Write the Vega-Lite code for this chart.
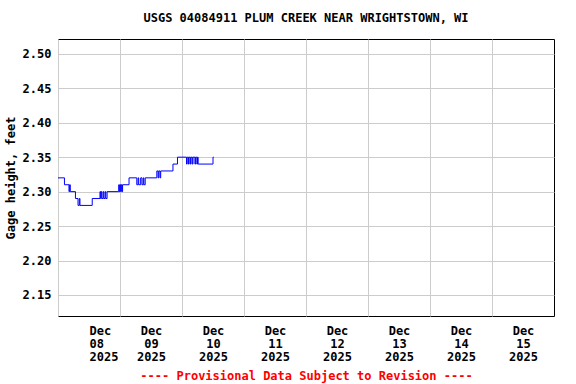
{
  "$schema": "https://vega.github.io/schema/vega-lite/v6.json",
  "width": 496,
  "height": 277,
  "autosize": {"type": "none"},
  "padding": {"left": 58, "top": 39, "right": 22, "bottom": 68},
  "background": "white",
  "title": {"text": "USGS 04084911 PLUM CREEK NEAR WRIGHTSTOWN, WI", "font": "DejaVu Sans Mono", "fontSize": 12, "fontWeight": "bold", "color": "black", "offset": 14, "anchor": "middle"},
  "config": {
    "view": {"stroke": "black", "strokeWidth": 1},
    "axis": {"labelFont": "DejaVu Sans Mono", "labelFontWeight": "bold", "labelFontSize": 12, "labelColor": "black", "titleFont": "DejaVu Sans Mono", "titleFontWeight": "bold", "titleFontSize": 12, "titleColor": "black", "gridColor": "#cccccc", "gridWidth": 1, "gridOpacity": 1, "ticks": false, "domain": false}
  },
  "data": {"values": [
    {"t": "2025-12-08T00:00", "v": 2.32},
    {"t": "2025-12-08T02:30", "v": 2.31},
    {"t": "2025-12-08T04:15", "v": 2.30},
    {"t": "2025-12-08T04:30", "v": 2.31},
    {"t": "2025-12-08T04:45", "v": 2.30},
    {"t": "2025-12-08T06:45", "v": 2.29},
    {"t": "2025-12-08T07:45", "v": 2.28},
    {"t": "2025-12-08T08:15", "v": 2.29},
    {"t": "2025-12-08T08:30", "v": 2.28},
    {"t": "2025-12-08T13:15", "v": 2.29},
    {"t": "2025-12-08T16:15", "v": 2.30},
    {"t": "2025-12-08T16:30", "v": 2.29},
    {"t": "2025-12-08T16:45", "v": 2.30},
    {"t": "2025-12-08T17:00", "v": 2.29},
    {"t": "2025-12-08T17:30", "v": 2.30},
    {"t": "2025-12-08T17:45", "v": 2.29},
    {"t": "2025-12-08T18:15", "v": 2.30},
    {"t": "2025-12-08T18:30", "v": 2.29},
    {"t": "2025-12-08T19:00", "v": 2.30},
    {"t": "2025-12-08T23:30", "v": 2.31},
    {"t": "2025-12-08T23:45", "v": 2.30},
    {"t": "2025-12-09T00:00", "v": 2.31},
    {"t": "2025-12-09T00:15", "v": 2.30},
    {"t": "2025-12-09T00:30", "v": 2.31},
    {"t": "2025-12-09T00:45", "v": 2.30},
    {"t": "2025-12-09T01:00", "v": 2.31},
    {"t": "2025-12-09T03:30", "v": 2.32},
    {"t": "2025-12-09T06:30", "v": 2.31},
    {"t": "2025-12-09T07:00", "v": 2.32},
    {"t": "2025-12-09T07:15", "v": 2.31},
    {"t": "2025-12-09T08:00", "v": 2.32},
    {"t": "2025-12-09T08:30", "v": 2.31},
    {"t": "2025-12-09T09:00", "v": 2.32},
    {"t": "2025-12-09T09:15", "v": 2.31},
    {"t": "2025-12-09T09:45", "v": 2.32},
    {"t": "2025-12-09T14:15", "v": 2.33},
    {"t": "2025-12-09T14:45", "v": 2.32},
    {"t": "2025-12-09T15:00", "v": 2.33},
    {"t": "2025-12-09T15:30", "v": 2.32},
    {"t": "2025-12-09T15:45", "v": 2.33},
    {"t": "2025-12-09T20:30", "v": 2.34},
    {"t": "2025-12-09T22:15", "v": 2.35},
    {"t": "2025-12-10T01:45", "v": 2.34},
    {"t": "2025-12-10T02:00", "v": 2.35},
    {"t": "2025-12-10T02:30", "v": 2.34},
    {"t": "2025-12-10T02:45", "v": 2.35},
    {"t": "2025-12-10T03:15", "v": 2.34},
    {"t": "2025-12-10T03:30", "v": 2.35},
    {"t": "2025-12-10T04:00", "v": 2.34},
    {"t": "2025-12-10T04:15", "v": 2.35},
    {"t": "2025-12-10T05:00", "v": 2.34},
    {"t": "2025-12-10T05:15", "v": 2.35},
    {"t": "2025-12-10T05:45", "v": 2.34},
    {"t": "2025-12-10T06:00", "v": 2.35},
    {"t": "2025-12-10T06:15", "v": 2.34},
    {"t": "2025-12-10T12:00", "v": 2.35},
    {"t": "2025-12-10T12:15", "v": 2.35}
  ]},
  "mark": {"type": "line", "interpolate": "step-after", "color": "#0000ff", "strokeWidth": 1},
  "encoding": {
    "x": {
      "field": "t", "type": "temporal",
      "scale": {"domain": [{"year": 2025, "month": 12, "date": 8}, {"year": 2025, "month": 12, "date": 16}]},
      "axis": {
        "values": [
          {"year": 2025, "month": 12, "date": 8},
          {"year": 2025, "month": 12, "date": 9},
          {"year": 2025, "month": 12, "date": 10},
          {"year": 2025, "month": 12, "date": 11},
          {"year": 2025, "month": 12, "date": 12},
          {"year": 2025, "month": 12, "date": 13},
          {"year": 2025, "month": 12, "date": 14},
          {"year": 2025, "month": 12, "date": 15}
        ],
        "labelExpr": "['Dec', timeFormat(datum.value, '%d'), timeFormat(datum.value, '%Y')]",
        "labelOffset": 31,
        "labelPadding": 9,
        "labelLineHeight": 13,
        "title": "---- Provisional Data Subject to Revision ----",
        "titleColor": "#ff0000",
        "titlePadding": 8
      }
    },
    "y": {
      "field": "v", "type": "quantitative",
      "scale": {"domain": [2.1195, 2.5215], "nice": false, "zero": false},
      "axis": {
        "values": [2.15, 2.2, 2.25, 2.3, 2.35, 2.4, 2.45, 2.5],
        "format": ".2f",
        "labelPadding": 7,
        "title": "Gage height, feet",
        "titlePadding": 5
      }
    }
  }
}
